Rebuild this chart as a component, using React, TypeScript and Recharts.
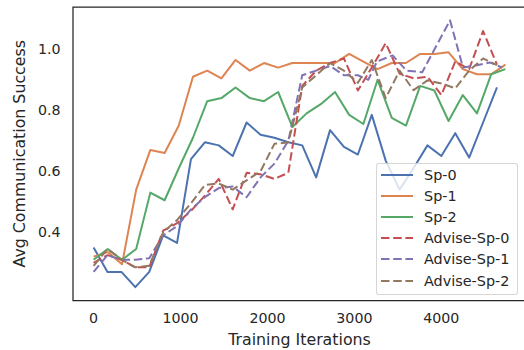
import React from "react";
import { LineChart, Line, XAxis, YAxis, ReferenceArea } from "recharts";

// iteration grids (each run logged at slightly different steps)
const itersA = [0, 160, 320, 480, 640, 800, 960, 1120, 1280, 1440, 1600, 1760, 1920, 2080, 2240, 2400, 2560, 2720, 2880, 3040, 3200, 3360, 3520, 3680, 3840, 4000, 4160, 4320, 4480, 4640];
const itersB = [0, 163, 327, 490, 653, 817, 980, 1143, 1307, 1470, 1633, 1797, 1960, 2123, 2287, 2450, 2613, 2777, 2940, 3103, 3267, 3430, 3593, 3757, 3920, 4083, 4247, 4410, 4573, 4737];
const itersAdv1 = [0, 160, 320, 480, 640, 800, 960, 1120, 1280, 1440, 1600, 1760, 1920, 2080, 2240, 2400, 2560, 2720, 2880, 3040, 3160, 3260, 3440, 3600, 3780, 4100, 4250, 4410, 4560, 4700];

const sp0 = [0.35, 0.27, 0.27, 0.22, 0.27, 0.39, 0.365, 0.64, 0.695, 0.685, 0.65, 0.76, 0.72, 0.71, 0.695, 0.685, 0.58, 0.735, 0.68, 0.655, 0.785, 0.635, 0.54, 0.61, 0.685, 0.65, 0.725, 0.645, 0.76, 0.875];
const sp1 = [0.32, 0.335, 0.295, 0.54, 0.67, 0.66, 0.75, 0.91, 0.93, 0.905, 0.965, 0.93, 0.955, 0.94, 0.955, 0.955, 0.955, 0.955, 0.985, 0.96, 0.935, 0.955, 0.955, 0.985, 0.985, 0.99, 0.935, 0.918, 0.918, 0.95];
const sp2 = [0.31, 0.345, 0.31, 0.345, 0.53, 0.505, 0.61, 0.71, 0.83, 0.84, 0.875, 0.84, 0.83, 0.86, 0.745, 0.79, 0.82, 0.86, 0.785, 0.755, 0.9, 0.775, 0.75, 0.88, 0.865, 0.765, 0.85, 0.79, 0.918, 0.935];
const adv0 = [0.3, 0.325, 0.31, 0.285, 0.285, 0.405, 0.43, 0.47, 0.52, 0.575, 0.475, 0.595, 0.59, 0.575, 0.595, 0.88, 0.93, 0.955, 0.97, 0.865, 0.94, 1.02, 0.92, 0.905, 0.91, 0.85, 0.96, 0.935, 1.06, 0.95];
const adv1 = [0.27, 0.325, 0.31, 0.31, 0.315, 0.39, 0.42, 0.475, 0.515, 0.545, 0.55, 0.515, 0.58, 0.625, 0.7, 0.915, 0.93, 0.945, 0.915, 0.915, 0.9, 0.96, 0.98, 0.93, 0.925, 1.095, 0.94, 0.948, 0.957, 0.94];
const adv2 = [0.29, 0.345, 0.31, 0.285, 0.29, 0.4, 0.44, 0.495, 0.555, 0.56, 0.54, 0.57, 0.6, 0.69, 0.695, 0.875, 0.915, 0.955, 0.93, 0.89, 0.965, 0.84, 0.93, 0.866, 0.898, 0.888, 0.872, 0.93, 0.97, 0.948];

const xTicks = [0, 1000, 2000, 3000, 4000];
const yTicks = [0.4, 0.6, 0.8, 1.0];

const series = [
  { name: "Sp-0", iters: itersA, values: sp0, color: "#4C72B0", dashed: false },
  { name: "Sp-1", iters: itersB, values: sp1, color: "#DD8452", dashed: false },
  { name: "Sp-2", iters: itersB, values: sp2, color: "#55A868", dashed: false },
  { name: "Advise-Sp-0", iters: itersA, values: adv0, color: "#C44E52", dashed: true },
  { name: "Advise-Sp-1", iters: itersAdv1, values: adv1, color: "#8172B3", dashed: true },
  { name: "Advise-Sp-2", iters: itersA, values: adv2, color: "#937860", dashed: true },
];

const FONT = "DejaVu Sans";
const TEXT = "#262626";
const DASH = "8.5 3.7";

// matplotlib-style 5% margins
const allX = series.flatMap((s) => s.iters);
const allY = series.flatMap((s) => s.values);
const xMax = Math.max(...allX);
const yLo = Math.min(...allY);
const yHi = Math.max(...allY);
const yPad = (yHi - yLo) * 0.05;
const xDomain = [-xMax * 0.05, xMax * 1.05];
const yDomain = [yLo - yPad, yHi + yPad];

const YLabel = (props: any) => {
  const vb = props.viewBox || { y: 7, height: 293.5 };
  const x = 25;
  const y = vb.y + vb.height / 2;
  return (
    <text
      x={x}
      y={y}
      transform={`rotate(-90 ${x} ${y})`}
      textAnchor="middle"
      fill={TEXT}
      fontSize={15.8}
      fontFamily={FONT}
    >
      Avg Communication Success
    </text>
  );
};

function LegendBox() {
  return (
    <div
      style={{
        position: "absolute",
        left: 376,
        top: 163,
        width: 142,
        boxSizing: "border-box",
        background: "rgba(255,255,255,0.8)",
        border: "1px solid rgba(204,204,204,0.8)",
        borderRadius: 3,
        paddingLeft: 4,
        paddingBottom: 2.5,
        fontFamily: FONT,
        fontSize: 14.4,
        color: TEXT,
      }}
    >
      {series.map((s) => (
        <div key={s.name} style={{ display: "flex", alignItems: "center", height: 21.2 }}>
          <svg width={32} height={10} style={{ display: "block" }}>
            <line
              x1={0}
              y1={5}
              x2={32}
              y2={5}
              stroke={s.color}
              strokeWidth={2}
              strokeDasharray={s.dashed ? DASH : undefined}
            />
          </svg>
          <span style={{ marginLeft: 11, whiteSpace: "nowrap" }}>{s.name}</span>
        </div>
      ))}
    </div>
  );
}

export default function App() {
  return (
    <div
      style={{
        position: "fixed",
        left: 0,
        top: 0,
        width: 524,
        height: 350,
        overflow: "hidden",
        background: "#fff",
      }}
    >
      <LineChart
        width={540}
        height={350}
        margin={{ top: 7, right: 14, bottom: 0, left: 0 }}
        style={{ fontFamily: FONT }}
      >
        <XAxis
          type="number"
          dataKey="x"
          domain={xDomain}
          ticks={xTicks}
          allowDataOverflow
          height={49.5}
          tickLine={false}
          axisLine={false}
          tickSize={0}
          tickMargin={12.5}
          tick={{ fill: TEXT, fontSize: 14.2, fontFamily: FONT }}
          label={{
            value: "Training Iterations",
            position: "insideBottom",
            offset: 5,
            fill: TEXT,
            fontSize: 15.8,
            fontFamily: FONT,
          }}
        />
        <YAxis
          type="number"
          dataKey="y"
          domain={yDomain}
          ticks={yTicks}
          allowDataOverflow
          width={73}
          tickLine={false}
          axisLine={false}
          tickSize={0}
          tickMargin={12.5}
          tickFormatter={(v: number) => v.toFixed(1)}
          tick={{ fill: TEXT, fontSize: 14.2, fontFamily: FONT }}
          label={{ content: YLabel }}
        />
        {series.map((s) => (
          <Line
            key={s.name}
            name={s.name}
            data={s.iters.map((x, i) => ({ x, y: s.values[i] }))}
            dataKey="y"
            type="linear"
            stroke={s.color}
            strokeWidth={2}
            strokeDasharray={s.dashed ? DASH : undefined}
            strokeLinejoin="round"
            dot={false}
            activeDot={false}
            isAnimationActive={false}
          />
        ))}
        <ReferenceArea
          x1={xDomain[0]}
          x2={xDomain[1]}
          y1={yDomain[0]}
          y2={yDomain[1]}
          ifOverflow="visible"
          fill="none"
          stroke={TEXT}
          strokeWidth={1.25}
        />
      </LineChart>
      <LegendBox />
    </div>
  );
}
